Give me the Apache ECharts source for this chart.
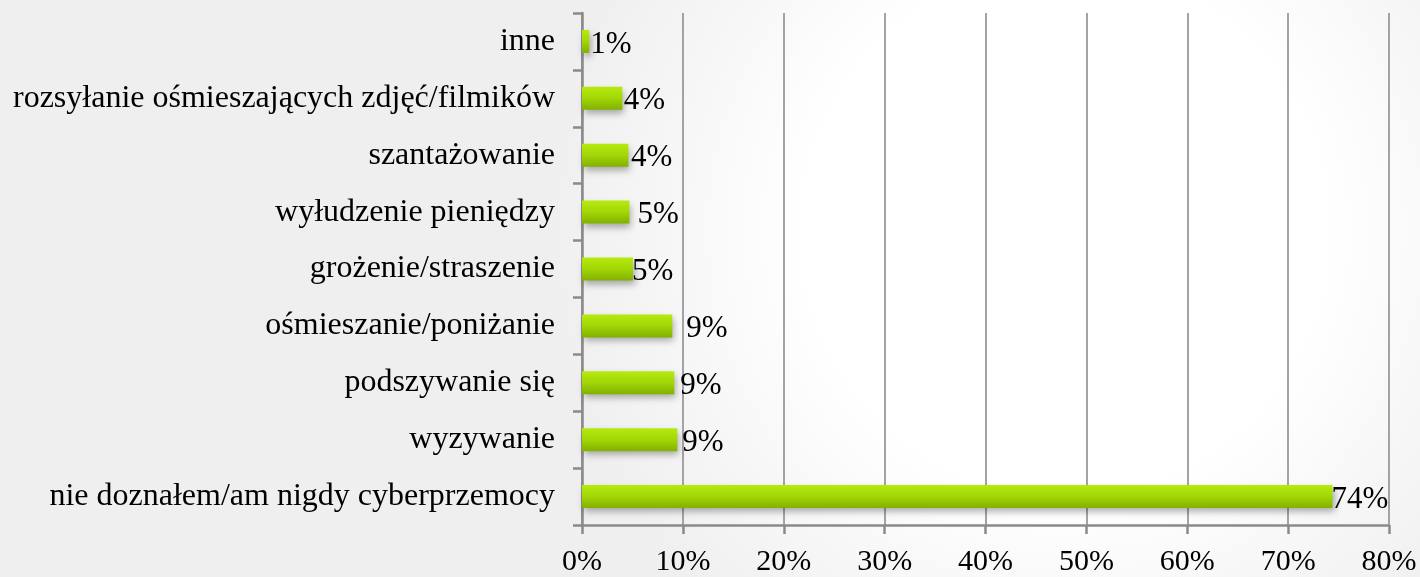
<!DOCTYPE html>
<html>
<head>
<meta charset="utf-8">
<script src="https://cdn.jsdelivr.net/npm/echarts@6/dist/echarts.min.js"></script>
<style>
html,body{margin:0;padding:0;}
#chart{width:1420px;height:577px;}
</style>
</head>
<body>
<div id="chart"></div>
<script>
// ---- data ----
const categories = [
  'nie doznałem/am nigdy cyberprzemocy',
  'wyzywanie',
  'podszywanie się',
  'ośmieszanie/poniżanie',
  'grożenie/straszenie',
  'wyłudzenie pieniędzy',
  'szantażowanie',
  'rozsyłanie ośmieszających zdjęć/filmików',
  'inne'
];
const values = [74.4, 9.45, 9.15, 8.95, 5.05, 4.7, 4.6, 4.0, 0.72];
const valueLabels = ['74%', '9%', '9%', '9%', '5%', '5%', '4%', '4%', '1%'];
const xTicks = [0, 10, 20, 30, 40, 50, 60, 70, 80];

// ---- style ----
const FONT = "'Liberation Serif', 'Times New Roman', serif";
const labelGap = [-1, 5, 6, 14, -1, 8, 2.5, 1.5, 1];

const chart = echarts.init(document.getElementById('chart'), null, {renderer: 'canvas'});
const barData = values.map((v, i) => ({
  value: v,
  label: {
    distance: labelGap[i],
    formatter: valueLabels[i]
  }
}));

chart.setOption({
  animation: false,
  backgroundColor: {
    type: 'radial', x: 0.75, y: 0.4, r: 0.9,
    colorStops: [
      {offset: 0, color: '#ffffff'},
      {offset: 0.5, color: '#ffffff'},
      {offset: 1, color: '#efefef'}
    ]
  },
  grid: {left: 582, right: 31, top: 13, bottom: 51, containLabel: false},
  xAxis: {
    type: 'value',
    min: xTicks[0],
    max: xTicks[xTicks.length - 1],
    interval: xTicks[1] - xTicks[0],
    axisLine: {show: true, lineStyle: {color: '#8a8a8a', width: 2.5}},
    axisTick: {show: true, length: 9, lineStyle: {color: '#8a8a8a', width: 2.5}},
    splitLine: {show: true, lineStyle: {color: '#a3a3a3', width: 2}},
    axisLabel: {
      formatter: '{value}%',
      margin: 22,
      color: '#000',
      fontFamily: FONT,
      fontSize: 30
    }
  },
  yAxis: {
    type: 'category',
    data: categories,
    axisLine: {show: true, lineStyle: {color: '#8a8a8a', width: 2.5}},
    axisTick: {show: true, length: 9, alignWithLabel: false, lineStyle: {color: '#8a8a8a', width: 2.5}},
    splitLine: {show: false},
    axisLabel: {
      margin: 27,
      color: '#000',
      fontFamily: FONT,
      fontSize: 32
    }
  },
  series: [{
    type: 'bar',
    data: barData,
    barWidth: 23,
    itemStyle: {
      color: {
        type: 'linear', x: 0, y: 0, x2: 0, y2: 1,
        colorStops: [
          {offset: 0, color: '#b6ea0e'},
          {offset: 0.5, color: '#a2d606'},
          {offset: 1, color: '#82b000'}
        ]
      },
      shadowColor: 'rgba(0,0,0,0.32)',
      shadowBlur: 7,
      shadowOffsetX: 2,
      shadowOffsetY: 4
    },
    label: {
      show: true,
      position: 'right',
      offset: [0, 3],
      color: '#000',
      fontFamily: FONT,
      fontSize: 31
    }
  }]
});
</script>
</body>
</html>
